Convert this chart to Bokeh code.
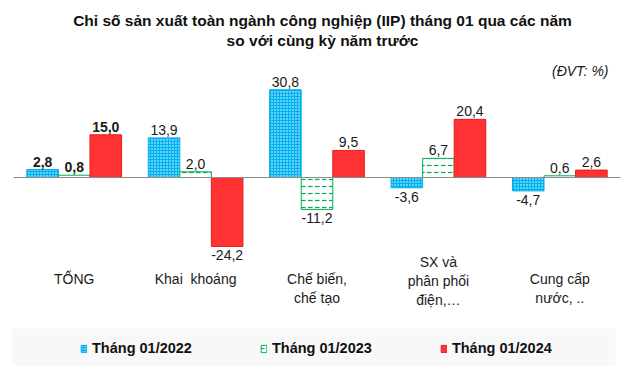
from bokeh.plotting import figure
from bokeh.models import ColumnDataSource, Range1d, Legend, LegendItem
from bokeh.core.properties import value
from bokeh.embed import file_html
from bokeh.resources import INLINE

# ---- data ----
categories = ["TỔNG", "Khai  khoáng", "Chế biến,\nchế tạo", "SX và\nphân phối\nđiện,…", "Cung cấp\nnước, .."]
series_names = ["Tháng 01/2022", "Tháng 01/2023", "Tháng 01/2024"]
v2022 = [2.8, 13.9, 30.8, -3.6, -4.7]
v2023 = [0.8, 2.0, -11.2, 6.7, 0.6]
v2024 = [15.0, -24.2, 9.5, 20.4, 2.6]
title_lines = ["Chỉ số sản xuất toàn ngành công nghiệp (IIP) tháng 01 qua các năm",
               "so với cùng kỳ năm trước"]
unit_text = "(ĐVT: %)"

# ---- layout helpers (page pixel -> data) ----
W, H = 639, 370
ORIGIN = 0
X0_PAGE, PX_PER_CAT = 13.0, 121.4
ZERO_PAGE, PX_PER_UNIT = 177.0, 2.85

def dx(page_x):
    return (page_x - X0_PAGE) / PX_PER_CAT

def dy(page_y):
    return (ZERO_PAGE - page_y) / PX_PER_UNIT

FONT = "Liberation Sans"

p = figure(width=W, height=H, output_backend="svg", toolbar_location=None,
           x_range=Range1d(dx(ORIGIN), dx(ORIGIN + W)),
           y_range=Range1d(dy(ORIGIN + H), dy(ORIGIN)),
           min_border=0, min_border_left=0, min_border_right=0,
           min_border_top=0, min_border_bottom=0)
p.axis.visible = False
p.xgrid.visible = False
p.ygrid.visible = False
p.outline_line_color = None
p.background_fill_color = "white"

n = len(categories)
centers = [i + 0.5 for i in range(n)]
bw = 0.26
offsets = [-bw, 0.0, bw]
series = [v2022, v2023, v2024]
styles = [
    dict(fill_color="#00b0f0", line_color="#00b0f0", hatch_pattern="dot",
         hatch_color="white", hatch_scale=3, hatch_weight=1.2),
    dict(fill_color="white", line_color="#00b050", hatch_pattern="horizontal_dash",
         hatch_color="#00b050", hatch_scale=7, hatch_weight=1.2),
    dict(fill_color="#ff3333", line_color="#e81c1c"),
]

# legend background
p.quad(left=dx(12), right=dx(615), top=dy(328), bottom=dy(365),
       fill_color="#f8f8f8", line_color=None)

renderers = []
for k, vals in enumerate(series):
    src = ColumnDataSource(dict(x=[c + offsets[k] for c in centers], top=vals))
    r = p.vbar(x="x", top="top", bottom=0, width=bw, source=src, line_width=1, **styles[k])
    renderers.append(r)

# zero axis line
p.segment(x0=0, x1=n, y0=0, y1=0, line_color="#8c8c8c", line_width=1)

# value labels
for k, vals in enumerate(series):
    xs, ys, txt, base, yoff, fst = [], [], [], [], [], []
    for i, v in enumerate(vals):
        xs.append(centers[i] + offsets[k])
        ys.append(v)
        txt.append(f"{v:.1f}".replace(".", ","))
        base.append("bottom" if v >= 0 else "top")
        yoff.append(-3 if v >= 0 else 4)
        fst.append("bold" if i == 0 else "normal")
    src = ColumnDataSource(dict(x=xs, y=ys, t=txt, b=base, yo=yoff, fs=fst))
    p.text(x="x", y="y", text="t", source=src, text_align="center", text_baseline="b",
           y_offset="yo", text_font=value(FONT), text_font_size="14px",
           text_font_style="fs", text_color="#1a1a1a")

# category labels
cl_text, cl_off = [], []
for c in categories:
    lines = c.count("\n") + 1
    cl_off.append(-17 * max(0, lines - 2))
    cl_text.append(c.replace("  ", "\u00a0 "))
src = ColumnDataSource(dict(x=centers, y=[dy(270)] * n, t=cl_text, yo=cl_off))
p.text(x="x", y="y", text="t", source=src, text_align="center", text_baseline="top",
       y_offset="yo", text_font=value(FONT), text_font_size="14px",
       text_line_height=1.2, text_color="#1a1a1a")

# title
p.text(x=[dx(322)] * 2, y=[dy(20), dy(40)], text=title_lines, text_align="center",
       text_baseline="middle", text_font=value(FONT), text_font_size="15.5px",
       text_font_style="bold", text_color="#111111")

# unit note
p.text(x=[dx(608)], y=[dy(70)], text=[unit_text], text_align="right",
       text_baseline="middle", text_font=value(FONT), text_font_size="14px",
       text_font_style="italic", text_color="#1a1a1a")

legend = Legend(items=[LegendItem(label=series_names[k], renderers=[renderers[k]]) for k in range(3)],
                orientation="horizontal", location=(80 - ORIGIN, H - (356 - ORIGIN)),
                glyph_width=7, glyph_height=9, label_standoff=5, spacing=68,
                padding=0, margin=0, label_height=16,
                label_text_font=FONT, label_text_font_size="14.5px",
                label_text_font_style="bold", label_text_color="#111111",
                background_fill_alpha=0, border_line_color=None)
p.add_layout(legend, "center")

open("out.html", "w").write(file_html(p, INLINE))
